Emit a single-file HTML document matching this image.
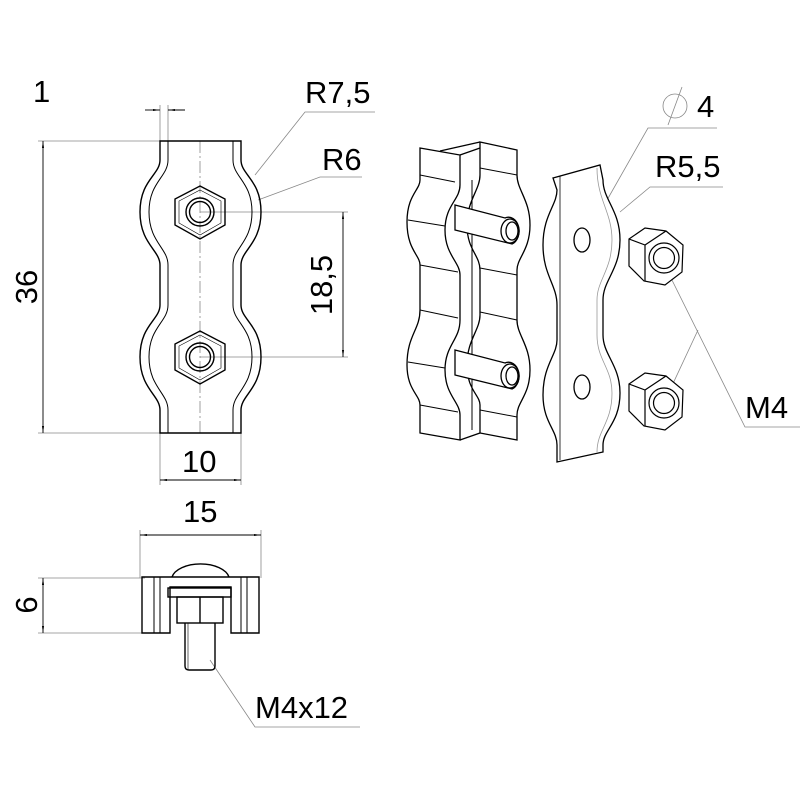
<!DOCTYPE html>
<html><head><style>html,body{margin:0;padding:0;background:#fff}svg{display:block}</style></head><body>
<svg width="800" height="800" viewBox="0 0 800 800" xmlns="http://www.w3.org/2000/svg" font-family="Liberation Sans, sans-serif">
<defs>
<marker id="a" viewBox="0 0 10 10" refX="10" refY="5" markerWidth="8" markerHeight="8" orient="auto-start-reverse"><path d="M0,3.5 L10,5 L0,6.5z" fill="#000"/></marker>
</defs>
<g stroke="#888" stroke-width="0.8" fill="none">
<line x1="38" y1="141" x2="160" y2="141"/><line x1="38" y1="433" x2="160" y2="433"/>
<line x1="160" y1="105" x2="160" y2="141"/><line x1="168" y1="105" x2="168" y2="141"/>
<line x1="160" y1="433" x2="160" y2="485"/><line x1="241" y1="433" x2="241" y2="485"/>
<line x1="200" y1="212" x2="348" y2="212"/><line x1="200" y1="357" x2="348" y2="357"/>
<line x1="140" y1="530" x2="140" y2="578"/><line x1="261" y1="530" x2="261" y2="578"/>
<line x1="38" y1="578" x2="145" y2="578"/><line x1="38" y1="633" x2="145" y2="633"/>
<line x1="200" y1="141" x2="200" y2="433" stroke-dasharray="12,3,2,3"/>
<polyline points="255,175 305,112 375,112"/>
<polyline points="258,200 320,177 362,177"/>
<polyline points="590,230 648,128 717,128"/>
<polyline points="620,212 650,187 723,187"/>
<polyline points="663,262 745,427 800,427"/>
<line x1="663" y1="405" x2="698" y2="330"/>
<polyline points="210,660 255,727 360,727"/>
</g>
<g stroke="#000" stroke-width="0.9" fill="none">
<line x1="43" y1="141" x2="43" y2="433" marker-start="url(#a)" marker-end="url(#a)"/>
<line x1="160" y1="480" x2="241" y2="480" marker-start="url(#a)" marker-end="url(#a)"/>
<line x1="343" y1="212" x2="343" y2="357" marker-start="url(#a)" marker-end="url(#a)"/>
<line x1="140" y1="535" x2="261" y2="535" marker-start="url(#a)" marker-end="url(#a)"/>
<line x1="43" y1="578" x2="43" y2="633" marker-start="url(#a)" marker-end="url(#a)"/>
<line x1="145" y1="110" x2="160" y2="110" marker-end="url(#a)"/>
<line x1="185" y1="110" x2="168" y2="110" marker-end="url(#a)"/>
</g>
<g stroke="#000" stroke-width="1.4" fill="none">
<path d="M160,141 L160,160 C160,175 140,180 140,212 C140,244 160,250 160,265 L160,305 C160,320 140,325 140,357 C140,389 160,395 160,410 L160,433 L241,433 L241,410 C241,395 261,389 261,357 C261,325 241,320 241,305 L241,265 C241,250 261,244 261,212 C261,180 241,175 241,160 L241,141 Z"/>
<path d="M168,141 L168,160 C168,177 149,182 149,212 C149,242 168,248 168,265 L168,305 C168,322 149,327 149,357 C149,387 168,393 168,410 L168,433" stroke-width="1"/>
<path d="M233,141 L233,160 C233,177 252,182 252,212 C252,242 233,248 233,265 L233,305 C233,322 252,327 252,357 C252,387 233,393 233,410 L233,433" stroke-width="1"/>
<g id="nut"><polygon points="200,186 225,199 225,225 200,239 175,225 175,199"/><polygon points="200,190 221,201 221,223 200,235 179,223 179,201" stroke-width="0.6"/><circle cx="200" cy="212" r="14"/><circle cx="200" cy="212" r="10.5"/></g>
<use href="#nut" y="145"/>
</g>
<g stroke="#000" stroke-width="1.4" fill="none">
<path d="M172,577 A29,16 0 0 1 229,577"/>
<path d="M142,577 L259,577 L259,633 L231,633 L231,587 L170,587 L170,633 L142,633 Z"/>
<line x1="154" y1="577" x2="154" y2="633" stroke-width="1"/><line x1="160" y1="577" x2="160" y2="633" stroke-width="1"/>
<line x1="247" y1="577" x2="247" y2="633" stroke-width="1"/><line x1="241" y1="577" x2="241" y2="633" stroke-width="1"/>
<rect x="168" y="588" width="63" height="9"/>
<rect x="177" y="597" width="46" height="26"/><line x1="200" y1="597" x2="200" y2="623"/>
<path d="M185,623 L185,666 Q185,670 189,670 L211,670 Q215,670 215,666 L215,623"/>
<line x1="188" y1="623" x2="188" y2="670" stroke-width="0.6"/>
</g>
<g stroke="#000" stroke-width="1.3" fill="#fff">
<path d="M420,148 L460,155 L460,185 C460,200 445,205 445,230 C445,255 460,262 460,275 L460,320 C460,340 445,345 445,370 C445,395 460,402 460,415 L460,440 L420,433 L420,405 C420,395 407,390 407,365 C407,335 420,330 420,310 L420,265 C420,255 407,250 407,222 C407,195 420,190 420,180 Z"/>
<path d="M480,142 L517,150 L517,175 C517,190 530,200 530,225 C530,250 517,258 517,270 L517,320 C517,335 530,345 530,370 C530,395 517,402 517,415 L517,440 L480,433 L480,405 C480,395 467,390 467,365 C467,340 480,330 480,315 L480,270 C480,255 467,250 467,225 C467,200 480,190 480,175 Z"/>
<path d="M460,155 L480,148 M440,151 L480,142" fill="none"/>
<line x1="460" y1="440" x2="480" y2="433"/>
<g stroke-width="1"><line x1="420" y1="175" x2="455" y2="182"/><line x1="408" y1="220" x2="445" y2="226"/><line x1="420" y1="265" x2="458" y2="272"/><line x1="420" y1="310" x2="458" y2="318"/><line x1="408" y1="362" x2="445" y2="368"/><line x1="420" y1="405" x2="458" y2="412"/>
<line x1="480" y1="168" x2="517" y2="175"/><line x1="480" y1="268" x2="517" y2="275"/><line x1="480" y1="312" x2="517" y2="320"/><line x1="480" y1="410" x2="517" y2="417"/><line x1="472" y1="180" x2="472" y2="430"/></g>
<path d="M455,205 L505,218 A10,13 0 0 1 512,244 L455,230 Z"/>
<ellipse cx="510" cy="231" rx="9" ry="12"/><ellipse cx="512" cy="231" rx="6" ry="9"/>
<path d="M455,350 L505,363 A10,13 0 0 1 512,389 L455,375 Z"/>
<ellipse cx="510" cy="376" rx="9" ry="12"/><ellipse cx="512" cy="376" rx="6" ry="9"/>
</g>
<g stroke="#000" stroke-width="1.3" fill="#fff">
<path d="M553,178 L600,165 L603,180 C603,200 620,210 620,240 C620,270 603,280 603,300 L603,335 C603,355 620,365 620,393 C620,423 603,430 603,445 L603,452 L557,462 L557,445 C557,430 543,422 543,395 C543,365 557,355 557,340 L557,305 C557,285 543,275 543,245 C543,215 557,205 557,190 Z"/>
<line x1="560" y1="176" x2="560" y2="460" stroke-width="0.8"/>
<path d="M597,168 C597,200 612,212 612,240 C612,270 597,280 597,300 L597,335 C597,360 612,368 612,393 C612,423 597,430 597,452" fill="none" stroke="#999" stroke-width="0.8"/>
<ellipse cx="582" cy="240" rx="8" ry="12"/><ellipse cx="582" cy="387" rx="8" ry="12"/>
</g>
<g stroke="#000" stroke-width="1.2" fill="#fff">
<g id="inut"><path d="M629,239 L645,228 L666,231 L683,245 L682,272 L665,285 L644,281 L629,266 Z"/><path d="M629,239 L645,245 L645,281 M645,245 L666,231" fill="none"/><circle cx="664" cy="258" r="15"/><circle cx="664" cy="258" r="10.5"/></g>
<use href="#inut" y="145"/>
</g>
<g font-size="31" fill="#000">
<text x="33" y="102">1</text>
<text x="305" y="103">R7,5</text>
<text x="322" y="170">R6</text>
<text x="182" y="472">10</text>
<text x="183" y="522">15</text>
<text x="26" y="298" transform="rotate(-90 26 287)" text-anchor="middle">36</text>
<text x="321" y="296" transform="rotate(-90 321 285)" text-anchor="middle">18,5</text>
<text x="26" y="616" transform="rotate(-90 26 605)" text-anchor="middle">6</text>
<text x="697" y="117">4</text>
<text x="655" y="177">R5,5</text>
<text x="745" y="418">M4</text>
<text x="255" y="718">M4x12</text>
</g>
<g stroke="#888" stroke-width="0.8" fill="none"><circle cx="675" cy="106" r="12"/><line x1="668" y1="125" x2="682" y2="87"/></g>
</svg>
</body></html>
